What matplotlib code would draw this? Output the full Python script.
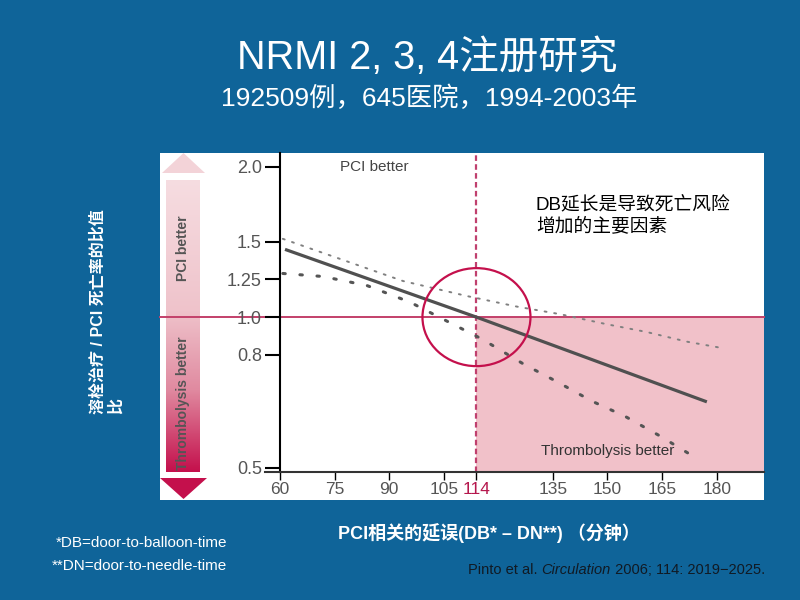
import numpy as np
import matplotlib
matplotlib.use("Agg")
import matplotlib.pyplot as plt
from matplotlib import font_manager, transforms
from matplotlib.patches import Rectangle, Polygon, Ellipse
from matplotlib.lines import Line2D
from matplotlib.colors import LinearSegmentedColormap

# fonts
installed = {f.name for f in font_manager.fontManager.ttflist}
narrow = "Liberation Sans Narrow" if "Liberation Sans Narrow" in installed else "Liberation Sans"
plt.rcParams["font.family"] = ["Liberation Sans", "Noto Sans CJK SC", "DejaVu Sans"]
cjk = ["Liberation Sans", "Noto Sans CJK SC", "DejaVu Sans"]
narrow_fam = [narrow, "Noto Sans CJK SC", "DejaVu Sans"]

# data (PCI-related delay in minutes, mortality ratio)
delay_ticks = [60, 75, 90, 105, 114, 135, 150, 165, 180]
ratio_ticks = [0.5, 0.8, 1.0, 1.25, 1.5, 2.0]
ratio_tick_labels = ["0.5", "0.8", "1.0", "1.25", "1.5", "2.0"]

fit_delay = [61.4, 114, 177.3]
fit_ratio = [1.45, 1.0, 0.64]

upper_delay = [60.8, 93.8, 111.4, 125.1, 136.9, 149.8, 160.8, 171.8, 181.4]
upper_ratio = [1.52, 1.24, 1.14, 1.07, 1.02, 0.955, 0.91, 0.86, 0.83]

lower_delay = [60.8, 71.8, 83.9, 95.7, 105.9, 115.5, 127, 136.1, 145.7, 154.8, 164.4, 174]
lower_ratio = [1.29, 1.27, 1.21, 1.10, 0.974, 0.873, 0.762, 0.70, 0.642, 0.603, 0.559, 0.518]

equal_delay = 114

BG = "#0f6499"
CRIMSON = "#c4104c"

W, H = 800, 600


def px(x, y):
    return (x / W, 1 - y / H)


fig = plt.figure(figsize=(8, 6), dpi=100, facecolor=BG)

# white panel (behind everything)
fig.patches.append(Rectangle(px(160, 500), 604 / W, 347 / H, transform=fig.transFigure,
                             facecolor="white", edgecolor="none", zorder=-5))

# gradient arrow at the left
gax = fig.add_axes([166 / W, 128 / H, 34 / W, (472 - 180) / H])
cmap = LinearSegmentedColormap.from_list(
    "arrow", [(0, "#f6dde1"), (0.45, "#efc3cb"), (0.72, "#e08aa0"), (1.0, CRIMSON)])
grad = np.linspace(0, 1, 256).reshape(-1, 1)
gax.imshow(grad, aspect="auto", cmap=cmap, origin="upper")
gax.set_axis_off()
fig.patches.append(Polygon([px(162, 173), px(205, 173), px(183.5, 153)], closed=True,
                           transform=fig.transFigure, facecolor="#f3d3d8", edgecolor="none"))
fig.patches.append(Polygon([px(160, 478), px(207, 478), px(183.5, 499)], closed=True,
                           transform=fig.transFigure, facecolor=CRIMSON, edgecolor="none"))
fig.text(*px(183, 248), "PCI better", rotation=90, ha="center", va="center",
         fontsize=10, fontweight="bold", color="#555555")
fig.text(*px(183, 403), "Thrombolysis better", rotation=90, ha="center", va="center",
         fontsize=10, fontweight="bold", color="#555555")

# main axes
ax = fig.add_axes([265 / W, 128 / H, (764 - 265) / W, (472 - 153) / H])
ax.patch.set_alpha(0)


def fwd(v):
    v = np.asarray(v, dtype=float)
    with np.errstate(divide="ignore", invalid="ignore"):
        return np.where(v >= 1, v - 1, 1 - 1 / v)


def inv(u):
    u = np.asarray(u, dtype=float)
    with np.errstate(divide="ignore", invalid="ignore"):
        return np.where(u >= 0, u + 1, 1 / (1 - u))


ax.set_yscale("function", functions=(fwd, inv))
ax.set_xlim(55.9, 193)
ax.set_ylim(0.493, 2.09)

# pink "thrombolysis better" zone
ax.fill_between([equal_delay, 193], 0.493, 1.0, color="#f1c1c9", lw=0, zorder=0)
ax.axvline(equal_delay, color="#c0406e", lw=1.6, ls=(0, (2.5, 1.5)), zorder=1)
hline = Line2D([160 / W, 764 / W], [1.0, 1.0],
               transform=transforms.blended_transform_factory(fig.transFigure, ax.transData),
               color="#c3406a", lw=1.4, clip_on=False, zorder=1.5)
ax.add_artist(hline)

ax.plot(upper_delay, upper_ratio, color="#808080", lw=1.4, ls=(0, (1, 4)),
        dash_capstyle="round", zorder=3)
ax.plot(lower_delay, lower_ratio, color="#555555", lw=2.2, ls=(0, (0.8, 4.8)),
        dash_capstyle="round", zorder=3)
ax.plot(fit_delay, fit_ratio, color="#505050", lw=2.3, solid_capstyle="butt", zorder=4)

# circle round the crossing point
ell = Ellipse((0, 0), 1.08, 0.98, fill=False, edgecolor=CRIMSON, lw=1.6, clip_on=False,
              transform=fig.dpi_scale_trans + transforms.ScaledTranslation(equal_delay, 1.0, ax.transData),
              zorder=5)
ax.add_artist(ell)

for side in ["top", "right"]:
    ax.spines[side].set_visible(False)
ax.spines["left"].set_position(("data", 60))
ax.spines["left"].set_linewidth(1.5)
ax.spines["bottom"].set_linewidth(1.5)
ax.spines["bottom"].set_color("#333333")

ax.set_yticks(ratio_ticks)
ax.set_yticklabels(ratio_tick_labels)
ax.yaxis.set_minor_locator(matplotlib.ticker.NullLocator())
ax.tick_params(axis="y", length=11, width=1.5, direction="out", pad=2,
               labelsize=13, labelcolor="#555555")
ax.set_xticks(delay_ticks)
ax.set_xticklabels([str(d) for d in delay_ticks])
ax.tick_params(axis="x", length=6, width=1, direction="out", pad=1,
               labelsize=12.5, labelcolor="#555555")
for lab in ax.get_xticklabels() + ax.get_yticklabels():
    lab.set_family(narrow_fam)
for t, lab in zip(delay_ticks, ax.get_xticklabels()):
    if t == equal_delay:
        lab.set_color("#b5174d")

ax.text(86, 2.0, "PCI better", ha="center", va="center", fontsize=11, color="#444444")
ax.text(150, 0.53, "Thrombolysis better", ha="center", va="center", fontsize=11, color="#333333")
ax.text(130.3, 1.67, "DB延长是导致死亡风险\n增加的主要因素", ha="left", va="center",
        fontsize=13.5, color="black", family=cjk, linespacing=1.2)

# slide texts
fig.text(*px(427, 58), "NRMI 2, 3, 4注册研究", ha="center", va="center",
         fontsize=28.5, color="white", family=cjk)
fig.text(*px(429, 98), "192509例，645医院，1994-2003年", ha="center", va="center",
         fontsize=19, color="white", family=narrow_fam)
fig.text(*px(107, 312), "溶栓治疗 / PCI 死亡率的比值\n比", rotation=90, ha="center", va="center",
         multialignment="left", fontsize=11.5, fontweight="bold", color="white", family=cjk)
fig.text(*px(489, 533), "PCI相关的延误(DB* – DN**) （分钟）", ha="center", va="center",
         fontsize=13, fontweight="bold", color="white", family=cjk)
fig.text(*px(227, 543), "*DB=door-to-balloon-time", ha="right", va="center",
         fontsize=11, color="white", family=narrow_fam)
fig.text(*px(227, 566), "**DN=door-to-needle-time", ha="right", va="center",
         fontsize=11, color="white", family=narrow_fam)

# citation, built right to left so the italic journal name sits inline
renderer = fig.canvas.get_renderer()
right = 765
for piece, style in [(" 2006; 114: 2019\u22122025.", "normal"), ("Circulation", "italic"),
                     ("Pinto et al. ", "normal")]:
    t = fig.text(*px(right, 570), piece, ha="right", va="center", fontsize=10.5,
                 color="#111a24", family=narrow_fam, style=style)
    right -= t.get_window_extent(renderer).width

fig.savefig("out.png", dpi=100, facecolor=BG)
